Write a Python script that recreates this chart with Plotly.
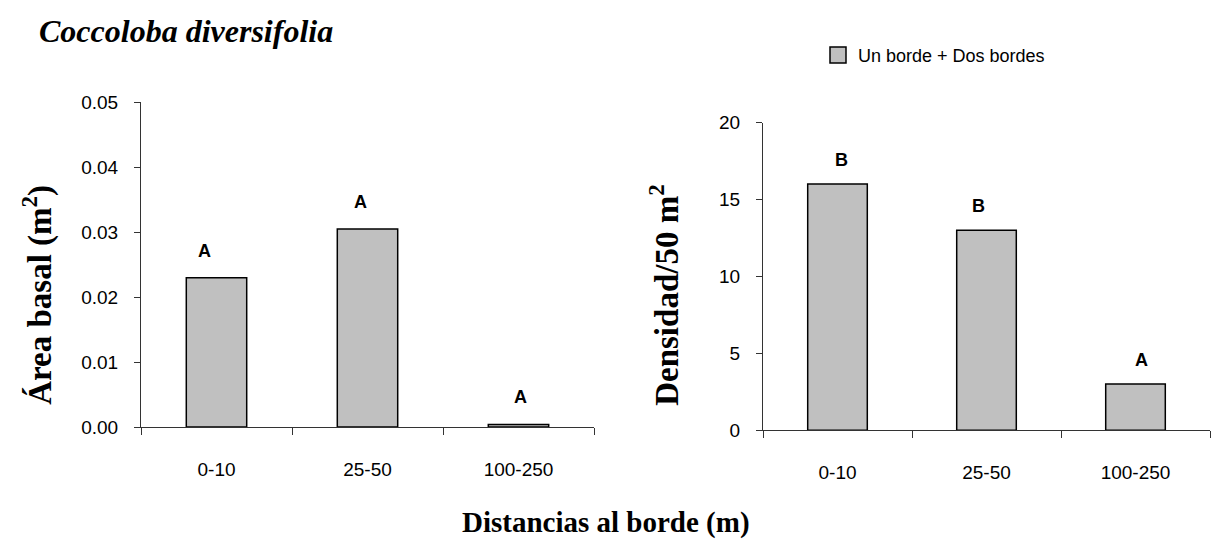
import plotly.graph_objects as go

categories = ["0-10", "25-50", "100-250"]
area_basal = [0.023, 0.0305, 0.0004]
densidad = [16, 13, 3]
letters_area = ["A", "A", "A"]
letters_dens = ["B", "B", "A"]
legend_name = "Un borde + Dos bordes"

# small horizontal nudges of the significance letters (px), as in the original
letter_shift_area = [-12, -7, 2]
letter_shift_dens = [4, -8, 6]

BAR_FILL = "#c0c0c0"
AX_COL = "#333333"
W, H = 1212, 555

fig = go.Figure()
fig.add_trace(go.Bar(x=categories, y=area_basal, xaxis="x", yaxis="y",
                     marker=dict(color=BAR_FILL, line=dict(color="black", width=1.5)),
                     showlegend=False, hoverinfo="skip"))
fig.add_trace(go.Bar(x=categories, y=densidad, xaxis="x2", yaxis="y2",
                     marker=dict(color=BAR_FILL, line=dict(color="black", width=1.5)),
                     showlegend=False, hoverinfo="skip"))
# legend entry
fig.add_trace(go.Scatter(x=[None], y=[None], mode="markers", name=legend_name,
                         marker=dict(symbol="square", size=16, color=BAR_FILL,
                                     line=dict(color="black", width=1.5)),
                         xaxis="x2", yaxis="y2"))

tickfont = dict(family="Liberation Sans, Arial", size=19, color="black")
common_x = dict(type="category", showline=True, linecolor=AX_COL, linewidth=1,
                ticks="outside", tickson="boundaries", ticklen=7, tickcolor=AX_COL,
                tickfont=tickfont, ticklabelstandoff=25, showgrid=False, zeroline=False,
                fixedrange=True)
common_y = dict(showline=True, linecolor=AX_COL, linewidth=1, ticks="outside",
                ticklen=6, tickcolor=AX_COL, tickfont=tickfont, showgrid=False,
                zeroline=False, ticklabelstandoff=12, fixedrange=True)

def px_x(p):
    return p / W

def px_y(p):
    return (H - p) / H

fig.update_layout(
    width=W, height=H,
    margin=dict(l=0, r=0, t=0, b=0),
    paper_bgcolor="white", plot_bgcolor="white",
    bargap=0.6,
    xaxis=dict(common_x, domain=[px_x(141), px_x(594)], anchor="y"),
    yaxis=dict(common_y, domain=[px_y(433.5), px_y(96)], range=[0, 0.05],
               tickvals=[0, 0.01, 0.02, 0.03, 0.04, 0.05], tickformat=".2f", anchor="x"),
    xaxis2=dict(common_x, domain=[px_x(763), px_x(1210)], anchor="y2"),
    yaxis2=dict(common_y, domain=[px_y(436.7), px_y(117)], range=[0, 20],
                tickvals=[0, 5, 10, 15, 20], anchor="x2"),
    showlegend=True,
    legend=dict(x=px_x(818), y=px_y(47), xanchor="left", yanchor="middle",
                font=dict(family="Liberation Sans, Arial", size=18, color="black"),
                bgcolor="rgba(0,0,0,0)"),
)

letter_font = dict(family="Liberation Sans, Arial", size=18, color="black", weight="bold")
annots = []
for c, v, t, s in zip(categories, area_basal, letters_area, letter_shift_area):
    annots.append(dict(x=c, y=v, xref="x", yref="y", text=t, showarrow=False,
                       yanchor="bottom", yshift=15, xshift=s, font=letter_font))
for c, v, t, s in zip(categories, densidad, letters_dens, letter_shift_dens):
    annots.append(dict(x=c, y=v, xref="x2", yref="y2", text=t, showarrow=False,
                       yanchor="bottom", yshift=12, xshift=s, font=letter_font))

serif_bold = dict(family="Liberation Serif, Times New Roman", size=33, color="black",
                  weight="bold")
annots.append(dict(x=px_x(37), y=px_y(22), xref="paper", yref="paper", xanchor="left",
                   yanchor="middle", showarrow=False,
                   text="<b><i>Coccoloba diversifolia</i></b>",
                   font=dict(family="Liberation Serif", size=32, color="black",
                             weight="bold", style="italic")))
annots.append(dict(x=px_x(606), y=px_y(533), xref="paper", yref="paper", xanchor="center",
                   yanchor="middle", showarrow=False, text="Distancias al borde (m)",
                   font=dict(serif_bold, size=29)))
annots.append(dict(x=px_x(38), y=px_y(296), xref="paper", yref="paper", xanchor="center",
                   yanchor="middle", showarrow=False, textangle=-90,
                   text="Área basal (m<sup>2</sup>)", font=serif_bold))
annots.append(dict(x=px_x(664), y=px_y(296), xref="paper", yref="paper", xanchor="center",
                   yanchor="middle", showarrow=False, textangle=-90,
                   text="Densidad/50 m<sup>2</sup>", font=serif_bold))
fig.update_layout(annotations=annots)

fig.write_html("out.html")
